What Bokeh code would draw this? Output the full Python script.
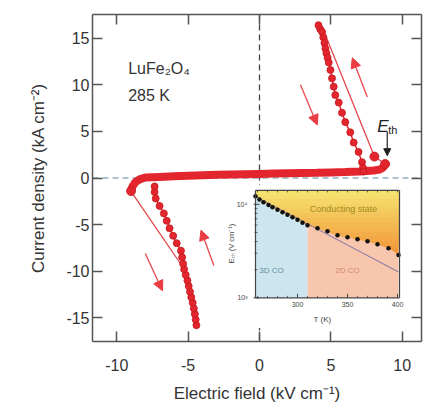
import numpy as np
from bokeh.plotting import figure
from bokeh.models import (Range1d, LinearAxis, Arrow, NormalHead, Span, LogScale, LinearScale,
                          FixedTicker, CoordinateMapping)
from bokeh.plotting.glyph_api import GlyphAPI
from bokeh.core.properties import value
from bokeh.embed import file_html
from bokeh.resources import INLINE

# ---------------- main I-V loop (E in kV/cm, J in kA/cm^2) ----------------
band_E = [-9.0, -8.9, -8.7, -8.4, -8.0, -7.0, -6.0, -5.0, -4.0, -3.0, -2.0, -1.0, 0.0,
          1.0, 2.0, 3.0, 4.0, 5.0, 6.0, 7.0, 7.5, 8.0, 8.4, 8.65, 8.8]
band_J = [-1.4, -0.9, -0.45, -0.15, 0.05, 0.12, 0.18, 0.24, 0.3, 0.34, 0.38, 0.41, 0.44,
          0.47, 0.5, 0.53, 0.56, 0.6, 0.64, 0.7, 0.74, 0.8, 0.9, 1.1, 1.5]

pos_dot_E = [4.13, 4.25, 4.38, 4.47, 4.55, 4.62, 4.69, 4.77, 4.85, 4.97, 5.08, 5.2, 5.31,
             5.55, 5.78, 6.01, 6.36, 6.6, 6.94, 7.18, 7.25, 7.28]
pos_dot_J = [16.4, 16.0, 15.7, 15.1, 14.5, 13.9, 13.4, 12.9, 12.4, 11.6, 10.7, 9.8, 8.9,
             8.1, 7.0, 6.0, 4.9, 3.8, 2.8, 1.7, 1.1, 0.7]

neg_dot_E = [-4.42, -4.47, -4.53, -4.6, -4.68, -4.78, -4.87, -4.96, -5.05, -5.17, -5.28, -5.35,
             -5.42, -5.5, -5.8, -6.05, -6.3, -6.5, -6.7, -7.0, -7.27, -7.35, -7.35]
neg_dot_J = [-15.8, -15.2, -14.6, -14.0, -13.4, -12.8, -12.2, -11.6, -11.0, -10.4, -9.8, -9.2,
             -8.5, -7.8, -7.0, -6.2, -5.4, -4.6, -3.8, -3.0, -2.2, -1.5, -0.9]

pos_jump_E = [8.8, 8.05, 4.45]
pos_jump_J = [1.5, 2.3, 16.0]
neg_jump_E = [-9.0, -8.75, -5.4]
neg_jump_J = [-1.4, -2.0, -9.5]

threshold_E = [8.8, 8.05, -9.0]
threshold_J = [1.5, 2.3, -1.4]

x_ticks = [-10, -5, 0, 5, 10]
y_ticks = [-15, -10, -5, 0, 5, 10, 15]

# ---------------- inset: threshold field vs temperature ----------------
dots_T = [258, 262, 266, 271, 275, 280, 285, 290, 295, 300, 305, 310, 320, 330, 340,
          350, 360, 370, 380, 391, 401]
dots_E = [12170, 11300, 10500, 9850, 9290, 8730, 8220, 7720, 7270, 6830, 6360, 5980, 5560,
          5160, 4680, 4450, 4240, 4040, 3750, 3400, 2870]
fit_T = [258, 401]
fit_E = [12170, 1890]
co_boundary_T = 310
inset_xticks = [300, 350, 400]
inset_xminor = list(range(260, 401, 10))
inset_yticks = [1e3, 1e4]
inset_yminor = [2e3, 3e3, 4e3, 5e3, 6e3, 7e3, 8e3, 9e3]

RED = "#e3262e"
RED_DARK = "#c4161d"
RED_THIN = "#e4454b"
AX = "#555555"
TXT = "#333333"
FONT = "Liberation Sans"

p = figure(width=425, height=405, x_range=Range1d(-11.7, 11.35), y_range=Range1d(-17.55, 17.55),
           output_backend="svg", toolbar_location=None,
           min_border_left=92, min_border_right=4, min_border_top=14, min_border_bottom=62)
p.grid.visible = False
p.outline_line_color = None
p.background_fill_color = "white"

def style_axis(ax, show_labels):
    ax.major_tick_in = 10
    ax.major_tick_out = 0
    ax.minor_tick_line_color = None
    ax.axis_line_color = AX
    ax.axis_line_width = 1.5
    ax.major_tick_line_color = AX
    ax.major_tick_line_width = 1.5
    if show_labels:
        ax.major_label_text_font = FONT
        ax.major_label_text_font_size = "16px"
        ax.major_label_text_color = TXT
        ax.axis_label_text_font = FONT
        ax.axis_label_text_font_size = "17px"
        ax.axis_label_text_font_style = "normal"
        ax.axis_label_text_color = TXT
    else:
        ax.major_label_text_font_size = "1px"
        ax.major_label_text_color = None
        ax.major_label_standoff = 0

p.xaxis.ticker = FixedTicker(ticks=x_ticks)
p.yaxis.ticker = FixedTicker(ticks=y_ticks)
style_axis(p.xaxis[0], True)
style_axis(p.yaxis[0], True)
p.xaxis.major_label_overrides = {t: str(t) for t in x_ticks}
p.yaxis.major_label_overrides = {t: str(t) for t in y_ticks}
p.xaxis.major_label_standoff = 17
p.yaxis.major_label_standoff = 3
p.xaxis.axis_label = "Electric field (kV cm\u207b\u00b9)"
p.yaxis.axis_label = "Current density (kA cm\u207b\u00b2)"
p.xaxis.axis_label_standoff = 10
p.yaxis.axis_label_standoff = 15

top_ax = LinearAxis(ticker=FixedTicker(ticks=x_ticks))
style_axis(top_ax, False)
p.add_layout(top_ax, "above")
right_ax = LinearAxis(ticker=FixedTicker(ticks=y_ticks))
style_axis(right_ax, False)
p.add_layout(right_ax, "right")

# dashed zero lines
p.add_layout(Span(location=0, dimension="height", line_color="#444444", line_dash="6 4",
                  line_width=1.3, level="underlay"))
p.add_layout(Span(location=0, dimension="width", line_color="#8fb3c2", line_dash="6 4",
                  line_width=1.3, level="underlay"))

# data
p.line(pos_jump_E, pos_jump_J, line_color=RED_THIN, line_width=1.3)
p.line(neg_jump_E, neg_jump_J, line_color=RED_THIN, line_width=1.3)
p.line(band_E, band_J, line_color=RED, line_width=8)
p.line(pos_dot_E, pos_dot_J, line_color=RED, line_width=1.5)
p.line(neg_dot_E, neg_dot_J, line_color=RED, line_width=1.5)
p.scatter(pos_dot_E, pos_dot_J, size=7, fill_color=RED, line_color=RED_DARK, line_width=0.8)
p.scatter(neg_dot_E, neg_dot_J, size=7, fill_color=RED, line_color=RED_DARK, line_width=0.8)
p.scatter(threshold_E, threshold_J, size=9, fill_color=RED, line_color=RED_DARK, line_width=0.8)

# arrows showing sweep direction
arrow_specs = [(7.55, 8.7, 6.5, 12.9), (2.87, 10.0, 4.05, 5.7),
               (-8.0, -8.1, -6.8, -12.1), (-3.2, -9.4, -4.1, -5.6)]
for xs, ys, xe, ye in arrow_specs:
    p.add_layout(Arrow(x_start=xs, y_start=ys, x_end=xe, y_end=ye, line_color="#ea5156",
                       line_width=1.4,
                       end=NormalHead(size=10, fill_color="#ea3c42", line_color="#ea3c42")))
p.add_layout(Arrow(x_start=8.95, y_start=5.0, x_end=8.95, y_end=2.4, line_color="#222222",
                   line_width=1.2, end=NormalHead(size=7, fill_color="#222222", line_color="#222222")))

# annotations
p.text(x=[-9.2], y=[11.8], text=["LuFe\u2082O\u2084"], text_font=value(FONT), text_font_size="16px",
       text_color=TXT, text_baseline="alphabetic")
p.text(x=[-9.2], y=[8.9], text=["285 K"], text_font=value(FONT), text_font_size="16px",
       text_color=TXT, text_baseline="alphabetic")
p.text(x=[8.25], y=[5.5], text=["E"], text_font=value(FONT), text_font_size="17px",
       text_font_style="italic", text_color="#222222", text_baseline="alphabetic")
p.text(x=[8.25], y=[5.5], text=["th"], x_offset=11, y_offset=3, text_font=value(FONT),
       text_font_size="11px", text_color="#222222", text_baseline="alphabetic")

# ---------------- inset ----------------
p.quad(left=-2.4, right=10.5, top=-0.75, bottom=-16.1, fill_color="white", line_color=None)

E_lo, E_hi = 1e3, 1.41e4
T_lo, T_hi = 258, 402
mapping = CoordinateMapping(x_source=Range1d(T_lo, T_hi), y_source=Range1d(E_lo, E_hi),
                            x_scale=LinearScale(), y_scale=LogScale(),
                            x_target=Range1d(-0.28, 9.81), y_target=Range1d(-12.86, -1.33))
ins = GlyphAPI(p, mapping)

k = dots_T.index(co_boundary_T)
ins.varea(x=dots_T[:k + 1], y1=E_lo, y2=dots_E[:k + 1], fill_color="#cde5ee")
ins.varea(x=dots_T[k:], y1=E_lo, y2=dots_E[k:], fill_color="#f8c6ac")

n_bands = 14
levels = np.geomspace(E_hi, min(dots_E), n_bands + 1)
c_top = np.array([246, 229, 112])
c_bot = np.array([242, 146, 56])
for i in reversed(range(n_bands)):
    t = (i + 0.5) / n_bands
    col = c_top * (1 - t) + c_bot * t
    hexcol = "#%02x%02x%02x" % tuple(int(round(v)) for v in col)
    ins.varea(x=dots_T, y1=np.clip(dots_E, levels[i + 1], E_hi), y2=E_hi, fill_color=hexcol)

ins.line(fit_T, fit_E, line_color="#8c7fa6", line_width=1.1)
ins.scatter(dots_T, dots_E, size=4.5, fill_color="#111111", line_color=None)

# inset frame and ticks
ins.segment(x0=[T_lo, T_lo, T_lo, T_hi], y0=[E_lo, E_hi, E_lo, E_lo],
            x1=[T_hi, T_hi, T_lo, T_hi], y1=[E_lo, E_hi, E_hi, E_hi], line_color="#444444", line_width=1.2)
px_y = 10 ** (1 / 94)
ins.segment(x0=inset_xticks, y0=[E_lo] * 3, x1=inset_xticks, y1=[E_lo * px_y ** 4] * 3,
            line_color="#444444", line_width=1)
ins.segment(x0=inset_xminor, y0=[E_lo] * len(inset_xminor), x1=inset_xminor,
            y1=[E_lo * px_y ** 2] * len(inset_xminor), line_color="#444444", line_width=0.8)
ins.segment(x0=inset_xminor, y0=[E_hi] * len(inset_xminor), x1=inset_xminor,
            y1=[E_hi / px_y ** 2] * len(inset_xminor), line_color="#444444", line_width=0.8)
ins.segment(x0=[T_lo - 2] * 2, y0=inset_yticks, x1=[T_lo + 4] * 2, y1=inset_yticks,
            line_color="#444444", line_width=1)
ins.segment(x0=[T_lo - 1] * len(inset_yminor), y0=inset_yminor, x1=[T_lo + 2] * len(inset_yminor),
            y1=inset_yminor, line_color="#444444", line_width=0.8)

ins.text(x=inset_xticks, y=[E_lo] * 3, text=[str(t) for t in inset_xticks], y_offset=4,
         text_font=value(FONT), text_font_size="7px", text_color="#444444",
         text_align="center", text_baseline="top")
ins.text(x=[T_lo] * 2, y=inset_yticks, text=["10\u00b3", "10\u2074"], x_offset=-8,
         text_font=value(FONT), text_font_size="7px", text_color="#444444",
         text_align="right", text_baseline="middle")
ins.text(x=[325], y=[E_lo], text=["T (K)"], y_offset=22, text_font=value(FONT),
         text_font_size="8px", text_color="#444444", text_align="center", text_baseline="middle")
ins.text(x=[T_lo], y=[3800], text=["E\u209c\u2095 (V cm\u207b\u00b9)"], x_offset=-24, angle=np.pi / 2,
         text_font=value(FONT), text_font_size="7.5px", text_color="#444444",
         text_align="center", text_baseline="middle")
ins.text(x=[346], y=[8850], text=["Conducting state"], text_font=value(FONT),
         text_font_size="9px", text_color="#a08a1e", text_align="center", text_baseline="middle")
ins.text(x=[274, 350], y=[1940, 1940], text=["3D CO", "2D CO"], text_font=value(FONT),
         text_font_size="8px", text_color=["#5f90a6", "#d28a70"], text_align="center",
         text_baseline="middle")

open("out.html", "w").write(file_html(p, INLINE))
